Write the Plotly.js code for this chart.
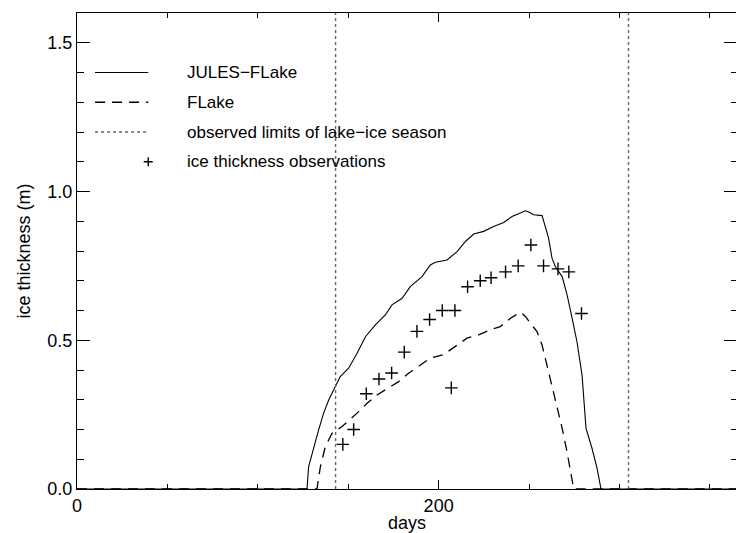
<!DOCTYPE html>
<html>
<head>
<meta charset="utf-8">
<script src="https://cdn.plot.ly/plotly-3.0.1.min.js"></script>
<style>
html,body{margin:0;padding:0;overflow:hidden;background:#fff;}
#chart{width:737px;height:533px;}
</style>
</head>
<body>
<div id="chart"></div>
<script>
// JULES-FLake modelled ice thickness (m) by day
var julesDays = [0, 127.2, 128.1, 130.9, 133.6, 136.4, 139.2, 141.9, 145.6, 150.2, 154.9, 159.5, 165.0, 170.5, 174.2, 179.8, 184.3, 190.8, 195.4, 198.2, 204.6, 210.2, 214.8, 219.4, 224.9, 230.4, 236.0, 240.6, 245.2, 248.0, 249.8, 252.5, 257.2, 259.0, 260.8, 262.7, 264.5, 268.3, 271.0, 273.8, 276.5, 279.3, 281.5, 284.8, 287.6, 289.8, 365];
var julesIce  = [0, 0.0, 0.075, 0.142, 0.198, 0.255, 0.299, 0.333, 0.378, 0.406, 0.456, 0.512, 0.552, 0.585, 0.619, 0.641, 0.680, 0.714, 0.753, 0.762, 0.770, 0.798, 0.832, 0.857, 0.866, 0.882, 0.896, 0.916, 0.927, 0.935, 0.931, 0.922, 0.919, 0.877, 0.843, 0.776, 0.748, 0.714, 0.653, 0.574, 0.495, 0.383, 0.204, 0.137, 0.070, 0.0, 0];

// FLake modelled ice thickness (m) by day
var flakeDays = [0, 132.7, 134.6, 137.3, 141.0, 146.6, 154.9, 160.4, 165.9, 172.3, 177.9, 183.4, 189.9, 195.4, 202.8, 209.2, 215.7, 222.1, 228.6, 234.1, 239.7, 245.2, 248.0, 250.7, 254.4, 257.2, 259.9, 262.7, 265.5, 268.3, 271.0, 273.2, 274.7, 365];
var flakeIce  = [0, 0.0, 0.075, 0.142, 0.187, 0.21, 0.255, 0.288, 0.316, 0.339, 0.361, 0.389, 0.417, 0.440, 0.452, 0.479, 0.507, 0.518, 0.535, 0.546, 0.574, 0.594, 0.580, 0.557, 0.529, 0.484, 0.417, 0.339, 0.271, 0.204, 0.125, 0.047, 0.0, 0];

// Ice thickness observations
var obsDays = [147, 153, 160, 167, 174, 181, 188, 195, 202, 207, 209, 216, 223, 229, 237, 244, 251, 258, 266, 272, 279];
var obsIce  = [0.15, 0.20, 0.32, 0.37, 0.39, 0.46, 0.53, 0.57, 0.60, 0.34, 0.60, 0.68, 0.70, 0.71, 0.73, 0.75, 0.82, 0.75, 0.74, 0.73, 0.59];

// Observed limits of lake-ice season (day)
var seasonLimits = [143, 305];

// Legend labels
var legendLabels = ["JULES\u2212FLake", "FLake", "observed limits of lake\u2212ice season", "ice thickness observations"];

var xRange = [0, 365];
var yRange = [0, 1.6];

var fontFam = '"Liberation Sans", Arial, Helvetica, sans-serif';

var traces = [
  {x: julesDays, y: julesIce, type: 'scatter', mode: 'lines',
   line: {color: '#000', width: 1.1}, showlegend: false},
  {x: flakeDays, y: flakeIce, type: 'scatter', mode: 'lines',
   line: {color: '#000', width: 1.3, dash: '10px,7px'}, showlegend: false},
  {x: obsDays, y: obsIce, type: 'scatter', mode: 'markers',
   marker: {symbol: 'cross-thin-open', size: 9, color: '#000', line: {color: '#000', width: 1.4}},
   showlegend: false}
];

var shapes = [];
seasonLimits.forEach(function (d) {
  shapes.push({type: 'line', xref: 'x', yref: 'paper', x0: d, x1: d, y0: 0, y1: 1,
    line: {color: '#666', width: 1.4, dash: 'dot'}, layer: 'above'});
});

// Custom legend (IDL-style, placed in data space)
var legX0 = 10, legX1 = 39.4, legText = 59.5;
var legRows = [1.4, 1.3, 1.2, 1.1];
var legStyles = [
  {color: '#000', width: 1.1, dash: 'solid'},
  {color: '#000', width: 1.3, dash: '10px,7px'},
  {color: '#666', width: 1.4, dash: 'dot'}
];
for (var i = 0; i < 3; i++) {
  shapes.push({type: 'line', xref: 'x', yref: 'y', x0: legX0, x1: legX1, y0: legRows[i], y1: legRows[i], line: legStyles[i]});
}
// plus marker for legend row 4
shapes.push({type: 'path', xref: 'x', yref: 'y', xsizemode: 'pixel', ysizemode: 'pixel',
  xanchor: legX1, yanchor: legRows[3], path: 'M -4.5,0 L 4.5,0 M 0,-4.5 L 0,4.5',
  line: {color: '#000', width: 1.4}});

var annotations = legendLabels.map(function (t, i) {
  return {x: legText, y: legRows[i], xref: 'x', yref: 'y', text: t, showarrow: false,
    xanchor: 'left', yanchor: 'middle', font: {family: fontFam, size: 17, color: '#000'}};
});

var layout = {
  width: 737, height: 533,
  margin: {l: 77, r: 0, t: 13, b: 44, pad: 0},
  paper_bgcolor: '#fff', plot_bgcolor: '#fff',
  font: {family: fontFam, size: 17, color: '#000'},
  showlegend: false,
  xaxis: {
    range: xRange, dtick: 200, tick0: 0, ticks: 'inside', ticklen: 9, tickwidth: 1, tickcolor: '#000',
    minor: {dtick: 50, ticks: 'inside', ticklen: 5, tickwidth: 1, tickcolor: '#000'},
    showgrid: false, zeroline: false, showline: true, linecolor: '#000', linewidth: 1, mirror: 'ticks',
    tickfont: {family: fontFam, size: 18},
    title: {text: 'days', font: {family: fontFam, size: 18}, standoff: 3}
  },
  yaxis: {
    range: yRange, dtick: 0.5, tick0: 0, tickformat: '.1f', ticks: 'inside', ticklen: 13, tickwidth: 1, tickcolor: '#000',
    minor: {dtick: 0.1, ticks: 'inside', ticklen: 6.5, tickwidth: 1, tickcolor: '#000'},
    showgrid: false, zeroline: false, showline: true, linecolor: '#000', linewidth: 1, mirror: 'ticks',
    tickfont: {family: fontFam, size: 18},
    title: {text: 'ice thickness (m)', font: {family: fontFam, size: 18}, standoff: 12}
  },
  shapes: shapes,
  annotations: annotations
};

Plotly.newPlot('chart', traces, layout, {displayModeBar: false, staticPlot: true});
</script>
</body>
</html>
